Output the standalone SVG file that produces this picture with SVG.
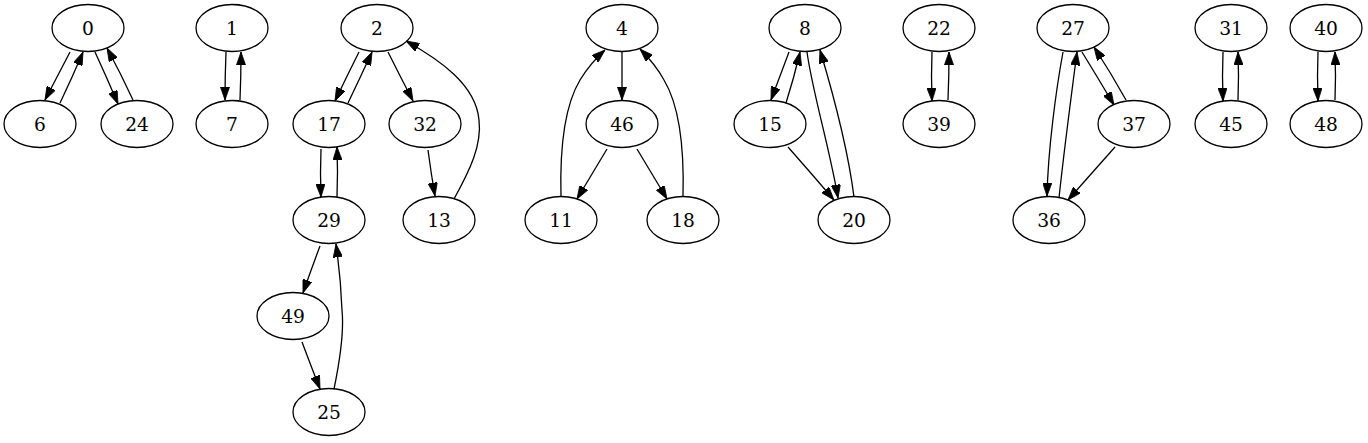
<svg xmlns="http://www.w3.org/2000/svg" width="1368" height="443" viewBox="0 0 1368 443">
<style>
.n ellipse{fill:none;stroke:#000;stroke-width:1.3}
.n text{font-family:"DejaVu Serif","Liberation Serif",serif;font-size:18.67px;text-anchor:middle;fill:#000}
.e path{fill:none;stroke:#000;stroke-width:1.3;marker-end:url(#ah)}
</style>
<defs>
<marker id="ah" viewBox="0 0 10 7" refX="10" refY="3.5" markerWidth="13.3" markerHeight="9.3" markerUnits="userSpaceOnUse" orient="auto">
<polygon points="0,0 10,3.5 0,7" fill="#000" stroke="#000" stroke-width="0.6"/>
</marker>
</defs>
<rect width="1368" height="443" fill="#fff"/>
<g id="edges" class="e">
<path d="M70,52 Q58,75 45,100"/>
<path d="M60,103 Q72,78 83,52"/>
<path d="M95,52 Q107,78 118,104"/>
<path d="M133,100 Q121,74 107,48"/>
<path d="M226,52 Q225,76 225,100"/>
<path d="M240,100 Q241,76 241,52"/>
<path d="M359,52 Q347,76 335,101"/>
<path d="M348,103 Q360,78 372,52"/>
<path d="M388,52 Q400,76 413,101"/>
<path d="M428,150 Q431,173 435,196"/>
<path d="M454,199 C470,170 482,145 479,120 C476,85 440,60 406,41"/>
<path d="M321,149 Q320,173 321,197"/>
<path d="M337,197 Q338,172 337,147"/>
<path d="M320,246 Q311,270 303,293"/>
<path d="M302,342 Q311,366 320,389"/>
<path d="M334,389 C340,360 344,330 342,310 C341,285 339,265 336,244"/>
<path d="M622,52 L622,100"/>
<path d="M607,149 Q592,174 577,199"/>
<path d="M637,149 Q652,174 667,199"/>
<path d="M561,197 C560,160 562,110 580,80 C588,67 596,58 605,50"/>
<path d="M683,197 C684,160 682,110 664,80 C657,67 649,58 640,49"/>
<path d="M789,52 Q780,76 771,100"/>
<path d="M786,103 Q794,78 800,52"/>
<path d="M807,52 C812,90 830,150 838,198"/>
<path d="M854,197 C848,150 835,100 820,50"/>
<path d="M788,147 Q811,173 834,200"/>
<path d="M932,52 Q931,76 932,101"/>
<path d="M948,100 Q949,76 949,52"/>
<path d="M1063,52 C1056,90 1048,150 1047,196"/>
<path d="M1059,198 C1063,160 1072,90 1077,52"/>
<path d="M1082,52 Q1098,78 1114,105"/>
<path d="M1126,100 Q1111,73 1094,47"/>
<path d="M1115,147 Q1092,173 1068,200"/>
<path d="M1223,52 Q1222,76 1223,101"/>
<path d="M1238,100 Q1239,76 1238,52"/>
<path d="M1318,52 Q1317,76 1318,101"/>
<path d="M1335,100 Q1336,76 1335,52"/>
</g>
<g id="n0" class="n"><ellipse cx="88" cy="28" rx="36" ry="23.5"/><text x="88" y="34.5">0</text></g>
<g id="n6" class="n"><ellipse cx="40" cy="124" rx="36" ry="23.5"/><text x="40" y="130.5">6</text></g>
<g id="n24" class="n"><ellipse cx="137" cy="124" rx="36" ry="23.5"/><text x="137" y="130.5">24</text></g>
<g id="n1" class="n"><ellipse cx="232" cy="28" rx="36" ry="23.5"/><text x="232" y="34.5">1</text></g>
<g id="n7" class="n"><ellipse cx="232" cy="124" rx="36" ry="23.5"/><text x="232" y="130.5">7</text></g>
<g id="n2" class="n"><ellipse cx="377" cy="28" rx="36" ry="23.5"/><text x="377" y="34.5">2</text></g>
<g id="n17" class="n"><ellipse cx="329" cy="124" rx="36" ry="23.5"/><text x="329" y="130.5">17</text></g>
<g id="n32" class="n"><ellipse cx="425" cy="124" rx="36" ry="23.5"/><text x="425" y="130.5">32</text></g>
<g id="n29" class="n"><ellipse cx="329" cy="220" rx="36" ry="23.5"/><text x="329" y="226.5">29</text></g>
<g id="n13" class="n"><ellipse cx="439" cy="220" rx="36" ry="23.5"/><text x="439" y="226.5">13</text></g>
<g id="n49" class="n"><ellipse cx="293" cy="316" rx="36" ry="23.5"/><text x="293" y="322.5">49</text></g>
<g id="n25" class="n"><ellipse cx="329" cy="412" rx="36" ry="23.5"/><text x="329" y="418.5">25</text></g>
<g id="n4" class="n"><ellipse cx="622" cy="28" rx="36" ry="23.5"/><text x="622" y="34.5">4</text></g>
<g id="n46" class="n"><ellipse cx="622" cy="124" rx="36" ry="23.5"/><text x="622" y="130.5">46</text></g>
<g id="n11" class="n"><ellipse cx="561" cy="220" rx="36" ry="23.5"/><text x="561" y="226.5">11</text></g>
<g id="n18" class="n"><ellipse cx="683" cy="220" rx="36" ry="23.5"/><text x="683" y="226.5">18</text></g>
<g id="n8" class="n"><ellipse cx="805" cy="28" rx="36" ry="23.5"/><text x="805" y="34.5">8</text></g>
<g id="n15" class="n"><ellipse cx="770" cy="124" rx="36" ry="23.5"/><text x="770" y="130.5">15</text></g>
<g id="n20" class="n"><ellipse cx="854" cy="220" rx="36" ry="23.5"/><text x="854" y="226.5">20</text></g>
<g id="n22" class="n"><ellipse cx="939" cy="28" rx="36" ry="23.5"/><text x="939" y="34.5">22</text></g>
<g id="n39" class="n"><ellipse cx="939" cy="124" rx="36" ry="23.5"/><text x="939" y="130.5">39</text></g>
<g id="n27" class="n"><ellipse cx="1073" cy="28" rx="36" ry="23.5"/><text x="1073" y="34.5">27</text></g>
<g id="n37" class="n"><ellipse cx="1134" cy="124" rx="36" ry="23.5"/><text x="1134" y="130.5">37</text></g>
<g id="n36" class="n"><ellipse cx="1049" cy="220" rx="36" ry="23.5"/><text x="1049" y="226.5">36</text></g>
<g id="n31" class="n"><ellipse cx="1231" cy="28" rx="36" ry="23.5"/><text x="1231" y="34.5">31</text></g>
<g id="n45" class="n"><ellipse cx="1231" cy="124" rx="36" ry="23.5"/><text x="1231" y="130.5">45</text></g>
<g id="n40" class="n"><ellipse cx="1326" cy="28" rx="36" ry="23.5"/><text x="1326" y="34.5">40</text></g>
<g id="n48" class="n"><ellipse cx="1326" cy="124" rx="36" ry="23.5"/><text x="1326" y="130.5">48</text></g>
</svg>
